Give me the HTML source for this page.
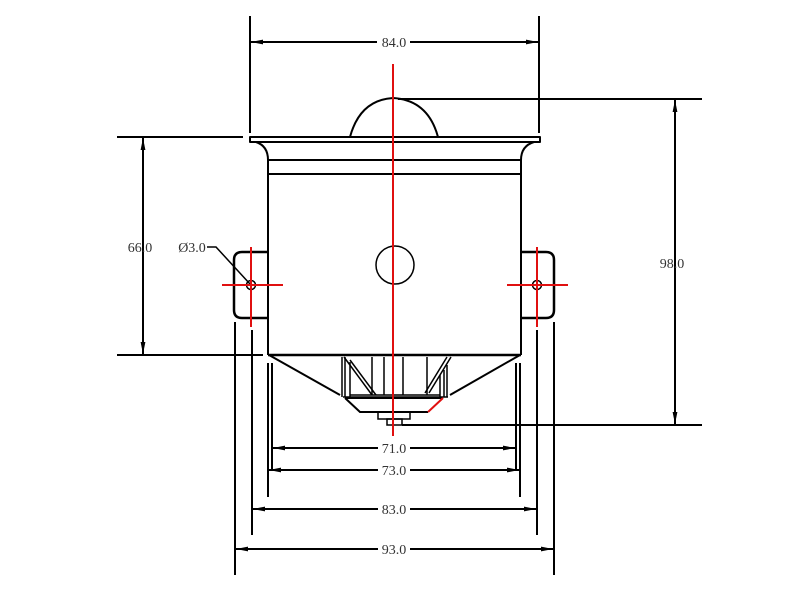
<!DOCTYPE html>
<html><head><style>body{margin:0;background:#fff}svg{display:block}text{font-family:"Liberation Serif",serif;font-size:14px;fill:#333}</style></head>
<body>
<svg width="788" height="591" viewBox="0 0 788 591" xmlns="http://www.w3.org/2000/svg">
<defs><marker id="a" viewBox="0 0 10 4" refX="10" refY="2" markerWidth="6" markerHeight="2.4" orient="auto-start-reverse"><path d="M0,0L10,2L0,4z" fill="#000"/></marker></defs>
<g stroke="#000" stroke-width="2" fill="none">
<line x1="250" y1="16" x2="250" y2="133"/><line x1="539" y1="16" x2="539" y2="133"/>
<line x1="251" y1="42" x2="377" y2="42" marker-start="url(#a)"/><line x1="410" y1="42" x2="538" y2="42" marker-end="url(#a)"/>
<line x1="398" y1="99" x2="702" y2="99"/><line x1="402" y1="425" x2="702" y2="425"/>
<line x1="675" y1="100" x2="675" y2="424" marker-start="url(#a)" marker-end="url(#a)"/>
<line x1="117" y1="137" x2="243" y2="137"/><line x1="117" y1="355" x2="263" y2="355"/>
<line x1="143" y1="138" x2="143" y2="354" marker-start="url(#a)" marker-end="url(#a)"/>
<path d="M350,137 Q360,100 393,98 Q428,100 438,137"/>
<path d="M250,137 L540,137 L540,142 L250,142 Z" stroke-linejoin="round"/>
<path d="M256,142 Q268,146 268,160 M534,142 Q521,146 521,160"/>
<line x1="268" y1="160" x2="521" y2="160"/><line x1="268" y1="174" x2="521" y2="174"/>
<line x1="268" y1="160" x2="268" y2="355"/><line x1="521" y1="160" x2="521" y2="355"/>
<line x1="268" y1="355" x2="521" y2="355" stroke-width="2.5"/>
<path d="M268,252 L242,252 Q234,252 234,260 L234,310 Q234,318 242,318 L268,318" stroke-width="2.5"/>
<path d="M521,252 L546,252 Q554,252 554,260 L554,310 Q554,318 546,318 L521,318" stroke-width="2.5"/>
<circle cx="251" cy="285" r="4.5" stroke-width="1.5"/><circle cx="537" cy="285" r="4.5" stroke-width="1.5"/>
<circle cx="395" cy="265" r="19" stroke-width="1.5"/>
<line x1="269" y1="355" x2="340" y2="395"/><line x1="520" y1="355" x2="450" y2="395"/>
<g stroke-width="1.5">
<line x1="342" y1="357" x2="342" y2="397"/><line x1="345" y1="357" x2="345" y2="397"/><line x1="350" y1="362" x2="350" y2="397"/>
<line x1="344" y1="357" x2="372" y2="395"/><line x1="350" y1="360" x2="376" y2="395"/>
<line x1="372" y1="357" x2="372" y2="395"/><line x1="384" y1="357" x2="384" y2="395"/>
<line x1="403" y1="357" x2="403" y2="395"/><line x1="427" y1="357" x2="427" y2="395"/>
<line x1="447" y1="357" x2="425" y2="393"/><line x1="451" y1="357" x2="429" y2="393"/>
<line x1="440" y1="375" x2="440" y2="397"/><line x1="444" y1="370" x2="444" y2="397"/><line x1="447" y1="365" x2="447" y2="397"/>
<line x1="343" y1="397" x2="448" y2="397"/><line x1="350" y1="395" x2="440" y2="395"/>
</g>
<path d="M345,398 L360,412 L428,412"/><line x1="345" y1="398" x2="443" y2="398"/>
<rect x="378" y="412" width="32" height="7" stroke-width="1.5"/><rect x="387" y="419" width="15" height="6" stroke-width="1.5"/>
<path d="M207,247 L216,247 L250,284" stroke-width="1.5"/>
<line x1="235" y1="322" x2="235" y2="575"/><line x1="554" y1="322" x2="554" y2="575"/>
<line x1="252" y1="330" x2="252" y2="535"/><line x1="537" y1="330" x2="537" y2="535"/>
<line x1="268" y1="363" x2="268" y2="497"/><line x1="272" y1="363" x2="272" y2="470"/>
<line x1="520" y1="363" x2="520" y2="497"/><line x1="516" y1="363" x2="516" y2="470"/>
<line x1="273" y1="448" x2="378" y2="448" marker-start="url(#a)"/><line x1="410" y1="448" x2="515" y2="448" marker-end="url(#a)"/>
<line x1="269" y1="470" x2="378" y2="470" marker-start="url(#a)"/><line x1="410" y1="470" x2="519" y2="470" marker-end="url(#a)"/>
<line x1="253" y1="509" x2="378" y2="509" marker-start="url(#a)"/><line x1="410" y1="509" x2="536" y2="509" marker-end="url(#a)"/>
<line x1="236" y1="549" x2="378" y2="549" marker-start="url(#a)"/><line x1="410" y1="549" x2="553" y2="549" marker-end="url(#a)"/>
</g>
<g stroke="#e01010" stroke-width="2">
<line x1="393" y1="64" x2="393" y2="436"/>
<line x1="222" y1="285" x2="283" y2="285"/><line x1="251" y1="247" x2="251" y2="327"/>
<line x1="507" y1="285" x2="568" y2="285"/><line x1="537" y1="247" x2="537" y2="327"/>
<line x1="443" y1="398" x2="428" y2="412"/>
</g>
<g text-anchor="middle">
<text x="394" y="47">84.0</text>
<text x="394" y="453">71.0</text><text x="394" y="475">73.0</text>
<text x="394" y="514">83.0</text><text x="394" y="554">93.0</text>
<text x="672" y="268">98.0</text><text x="140" y="252">66.0</text>
<text x="192" y="252">Ø3.0</text>
</g>
</svg>
</body></html>
